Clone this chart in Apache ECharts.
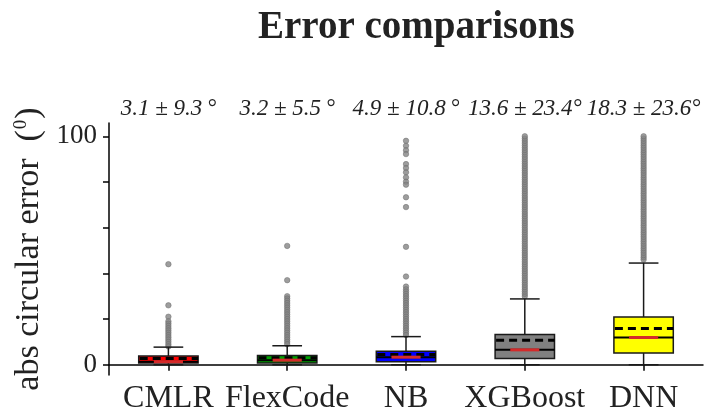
<!DOCTYPE html>
<html>
<head>
<meta charset="utf-8">
<script src="https://cdn.jsdelivr.net/npm/echarts@6/dist/echarts.min.js"></script>
<style>html,body{margin:0;padding:0;background:#fff}#c{width:706px;height:415px}</style>
</head>
<body>
<div id="c"></div>
<script>
const categories = ['CMLR', 'FlexCode', 'NB', 'XGBoost', 'DNN'];
const lowerWhisker = [0, 0, 0, 0, 0];
const q1 = [0.7, 0.7, 1.3, 2.7, 5.1];
const median = [1.3, 2.0, 3.3, 6.5, 11.9];
const q3 = [3.8, 4.0, 5.9, 13.2, 20.9];
const upperWhisker = [7.7, 8.3, 12.3, 28.8, 44.5];
const meanLine = [2.7, 3.0, 4.5, 10.7, 15.8];
const annotations = ['3.1 \u00b1 9.3\u2009\u00b0', '3.2 \u00b1 5.5\u2009\u00b0', '4.9 \u00b1 10.8\u2009\u00b0', '13.6 \u00b1 23.4\u00b0', '18.3 \u00b1 23.6\u00b0'];
const yTicks = [0, 20, 40, 60, 80, 100];
const yLabels = [0, 100];

const outliersCMLR = [44, 26, 21, 19, 18, 17, 16, 15, 14, 13, 12, 11, 10, 9, 8];
const outliersFlexCode = [52, 37, 30, 29, 28, 27, 26, 25, 24, 23, 22, 21, 20, 19, 18, 17, 16, 15, 14, 13, 12, 11, 10, 9];
const outliersNB = [98, 95.8, 93.9, 92.2, 87.8, 86.1, 84.2, 82, 80.1, 78.8, 73.3, 69, 51.6, 38.6, 34.2, 33, 32, 31, 30, 29, 28, 27, 26, 25, 24, 23, 22, 21, 20, 19, 18, 17, 16, 15, 14, 13];
const outliersXGBoost = [30, 31, 32, 33, 34, 35, 36, 37, 38, 39, 40, 41, 42, 43, 44, 45, 46, 47, 48, 49, 50, 51, 52, 53, 54, 55, 56, 57, 58, 59, 60, 61, 62, 63, 64, 65, 66, 67, 68, 69, 70, 71, 72, 73, 74, 75, 76, 77, 78, 79, 80, 81, 82, 83, 84, 85, 86, 87, 88, 89, 90, 91, 92, 93, 94, 95, 96, 97, 98, 99, 100];
const outliersDNN = [46, 47, 48, 49, 50, 51, 52, 53, 54, 55, 56, 57, 58, 59, 60, 61, 62, 63, 64, 65, 66, 67, 68, 69, 70, 71, 72, 73, 74, 75, 76, 77, 78, 79, 80, 81, 82, 83, 84, 85, 86, 87, 88, 89, 90, 91, 92, 93, 94, 95, 96, 97, 98, 99, 100];

const boxColors = ['#ff0000', '#00a000', '#0000ff', '#808080', '#ffff00'];
const serif = '"Liberation Serif", "Times New Roman", serif';
const Y_MIN = -4.5, Y_MAX = 105.8;

const outlierSets = [outliersCMLR, outliersFlexCode, outliersNB, outliersXGBoost, outliersDNN];
const outlierData = [];
outlierSets.forEach((arr, i) => arr.forEach(v => outlierData.push([i, v])));

const boxData = categories.map((c, i) => [i, lowerWhisker[i], q1[i], median[i], q3[i], upperWhisker[i], meanLine[i]]);

function renderBox(params, api) {
  const i = api.value(0);
  const x = api.coord([i, 0])[0];
  const band = api.size([1, 0])[0];
  const bw = band * 0.5, cw = band * 0.25, rw = band * 0.245;
  const y = k => api.coord([i, api.value(k)])[1];
  const yLo = y(1), yQ1 = y(2), yMed = y(3), yQ3 = y(4), yHi = y(5), yMean = y(6);
  const lineStyle = {stroke: '#1a1a1a', lineWidth: 1.5};
  return {
    type: 'group',
    children: [
      {type: 'line', shape: {x1: x, y1: yQ1, x2: x, y2: yLo}, style: lineStyle},
      {type: 'line', shape: {x1: x, y1: yQ3, x2: x, y2: yHi}, style: lineStyle},
      {type: 'line', shape: {x1: x - cw / 2, y1: yLo, x2: x + cw / 2, y2: yLo}, style: lineStyle},
      {type: 'line', shape: {x1: x - cw / 2, y1: yHi, x2: x + cw / 2, y2: yHi}, style: lineStyle},
      {type: 'rect', shape: {x: x - bw / 2, y: yQ3, width: bw, height: yQ1 - yQ3},
        style: {fill: boxColors[i], stroke: '#1a1a1a', lineWidth: 1.5}},
      {type: 'line', shape: {x1: x - bw / 2, y1: yMed, x2: x + bw / 2, y2: yMed},
        style: {stroke: '#000', lineWidth: 2}},
      {type: 'line', shape: {x1: x - bw / 2 + 1, y1: yMean, x2: x + bw / 2, y2: yMean},
        style: {stroke: '#000', lineWidth: 3, lineDash: [8, 5]}},
      {type: 'line', shape: {x1: x - rw / 2, y1: yMed, x2: x + rw / 2, y2: yMed},
        style: {stroke: '#d42a2a', lineWidth: 3}}
    ]
  };
}

function renderAnno(params, api) {
  const i = api.value(0);
  const p = api.coord([i, Y_MAX]);
  return {
    type: 'text',
    x: p[0], y: p[1] - 14,
    style: {text: annotations[i], font: 'italic 23px ' + serif, fill: '#222', align: 'center', verticalAlign: 'middle'}
  };
}

const chart = echarts.init(document.getElementById('c'), null, {renderer: 'canvas'});
chart.setOption({
  backgroundColor: '#fff',
  animation: false,
  title: {
    text: 'Error comparisons', left: 253, top: 3,
    textStyle: {fontFamily: serif, fontWeight: 'bold', fontSize: 39, color: '#222'}
  },
  grid: {left: 109, right: 3, top: 123, bottom: 38, containLabel: false},
  xAxis: {
    type: 'category', data: categories, boundaryGap: true,
    axisLine: {show: true, lineStyle: {color: '#000', width: 1.5}},
    axisTick: {show: true, alignWithLabel: true, length: 6, lineStyle: {color: '#000', width: 1.5}},
    axisLabel: {fontFamily: serif, fontSize: 32, color: '#222', margin: 8, interval: 0},
    splitLine: {show: false}
  },
  yAxis: {
    type: 'value', min: Y_MIN, max: Y_MAX,
    name: '{n|abs circular error  (}{s|0}{n|)}', nameLocation: 'middle', nameRotate: 90, nameGap: 57,
    nameTextStyle: {
      fontFamily: serif, fontSize: 34, color: '#222',
      rich: {
        n: {fontFamily: serif, fontSize: 34, color: '#222', lineHeight: 36},
        s: {fontFamily: serif, fontSize: 19, color: '#222', lineHeight: 36, verticalAlign: 'top', padding: [1, 1, 0, 1]}
      }
    },
    axisLine: {show: true, lineStyle: {color: '#000', width: 1.5}},
    axisTick: {show: true, length: 6, customValues: yTicks, lineStyle: {color: '#000', width: 1.5}},
    axisLabel: {fontFamily: serif, fontSize: 27, color: '#222', margin: 12, customValues: yLabels},
    splitLine: {show: false}
  },
  series: [
    {
      type: 'scatter', data: outlierData, symbol: 'circle', symbolSize: 5.5,
      itemStyle: {color: '#858585', borderColor: '#6a6a6a', borderWidth: 0.6}, z: 2
    },
    {
      type: 'custom', data: boxData, renderItem: renderBox,
      encode: {x: 0, y: [1, 2, 3, 4, 5, 6]}, z: 3
    },
    {
      type: 'custom', data: categories.map((c, i) => [i, Y_MAX]), renderItem: renderAnno,
      encode: {x: 0, y: 1}, z: 4, clip: false
    }
  ]
});
</script>
</body>
</html>
